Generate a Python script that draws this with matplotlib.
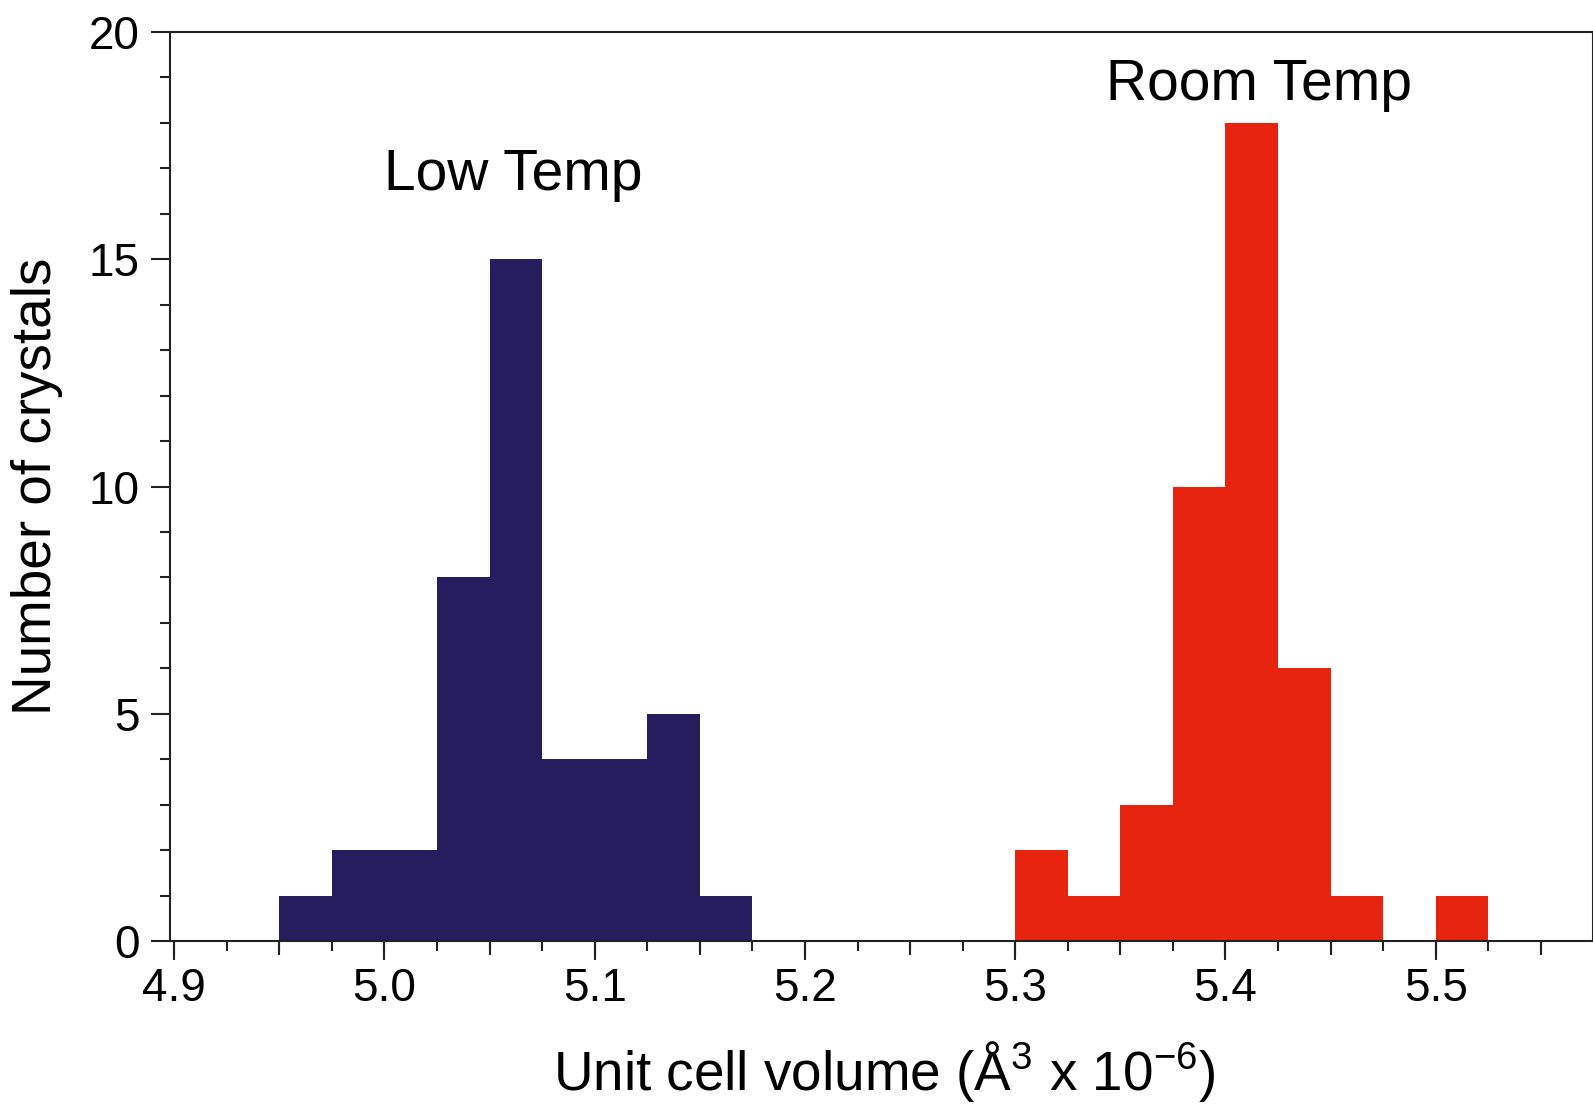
import matplotlib
matplotlib.use("Agg")
import matplotlib.pyplot as plt
from matplotlib.ticker import MultipleLocator, FuncFormatter

plt.rcParams['font.family'] = ['Liberation Sans', 'DejaVu Sans']
plt.rcParams['mathtext.fontset'] = 'custom'
plt.rcParams['mathtext.rm'] = 'Liberation Sans'
plt.rcParams['mathtext.it'] = 'Liberation Sans'
plt.rcParams['mathtext.default'] = 'regular'

# Histogram data: bin left edges (unit cell volume) and counts
bin_width = 0.025
low_edges = [4.95, 4.975, 5.0, 5.025, 5.05, 5.075, 5.1, 5.125, 5.15]
low_counts = [1, 2, 2, 8, 15, 4, 4, 5, 1]
room_edges = [5.3, 5.325, 5.35, 5.375, 5.4, 5.425, 5.45, 5.475, 5.5]
room_counts = [2, 1, 3, 10, 18, 6, 1, 0, 1]

low_color = '#261d5f'
room_color = '#e6240f'

fig = plt.figure(figsize=(15.93, 11.10), dpi=100)
ax = fig.add_axes([170/1593, 1 - 941/1110, 1 - 170/1593, (941 - 32)/1110])

ax.bar(low_edges, low_counts, width=bin_width, align='edge', color=low_color, linewidth=0)
ax.bar(room_edges, room_counts, width=bin_width, align='edge', color=room_color, linewidth=0)

ax.set_xlim(4.898, 5.5748)
ax.set_ylim(0, 20)

lw = 1.5
for s in ax.spines.values():
    s.set_linewidth(lw)
    s.set_color('#222222')

ax.xaxis.set_major_locator(MultipleLocator(0.1))
ax.xaxis.set_minor_locator(MultipleLocator(0.025))
ax.xaxis.set_major_formatter(FuncFormatter(lambda v, p: f"{v:.1f}"))
ax.yaxis.set_major_locator(MultipleLocator(5))
ax.yaxis.set_minor_locator(MultipleLocator(1))

ax.tick_params(axis='both', which='major', direction='out', length=14, width=lw,
               labelsize=33, color='#222222')
ax.tick_params(axis='both', which='minor', direction='out', length=7, width=lw,
               color='#222222')
ax.tick_params(axis='x', which='major', pad=5)
ax.tick_params(axis='y', which='major', pad=8)

# medium ticks at 0.05 intervals
sec = ax.secondary_xaxis('bottom')
sec.xaxis.set_major_locator(MultipleLocator(0.05))
sec.tick_params(axis='x', which='major', direction='out', length=10, width=lw,
                labelbottom=False, color='#222222')
sec.xaxis.set_minor_locator(MultipleLocator(1.0))
sec.tick_params(which='minor', length=0)
sec.spines['bottom'].set_visible(False)

ax.set_xlabel('Unit cell volume (Å$^{3}$ x 10$^{-6}$)', fontsize=39.5)
ax.set_ylabel('Number of crystals', fontsize=39.5)
ax.xaxis.set_label_coords(0.502, -0.108)
ax.xaxis.label.set_verticalalignment('top')
ax.yaxis.set_label_coords(-0.075, 0.5)

ax.text(5.0, 16.52, 'Low Temp', fontsize=41, ha='left', va='baseline')
ax.text(5.343, 18.51, 'Room Temp', fontsize=41, ha='left', va='baseline')

fig.savefig('out.png', dpi=100)
